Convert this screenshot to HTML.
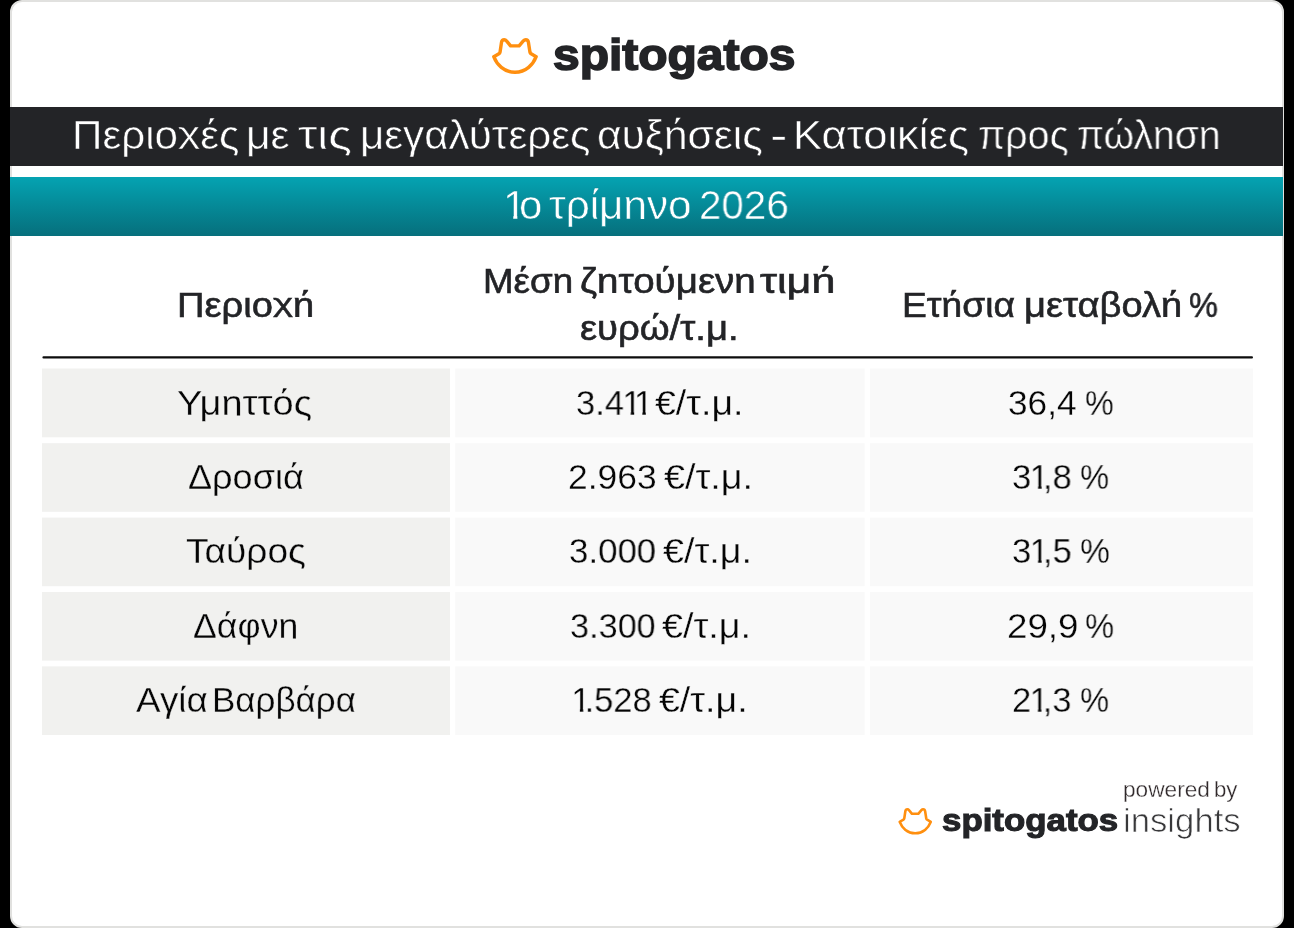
<!DOCTYPE html>
<html lang="el"><head><meta charset="utf-8"><title>Spitogatos Insights</title>
<style>html,body{margin:0;padding:0;}
body{width:1294px;height:928px;background:#000;position:relative;overflow:hidden;font-family:"Liberation Sans",sans-serif;}
.card{position:absolute;left:10px;top:0;width:1274px;height:928px;box-sizing:border-box;background:#fff;border:2px solid #e1e1df;border-radius:12px;}
.dark{position:absolute;left:10px;top:107px;width:1273px;height:59px;background:#232427;}
.teal{position:absolute;left:10px;top:177px;width:1273px;height:59px;background:linear-gradient(to bottom,#05a3b2 0%,#058e9c 40%,#066f7c 100%);}
.tx{position:absolute;height:0;white-space:nowrap;line-height:1;margin:0;padding:0;}
.t{display:inline-block;white-space:nowrap;line-height:1;transform-origin:0 0;will-change:transform;}
.n1{display:inline-block;margin:0 -0.17em 0 -0.05em;clip-path:polygon(0 0,100% 0,100% 0.75em,0.345em 0.75em,0.345em 100%,0.248em 100%,0.248em 0.75em,0 0.75em);}
.grid{position:absolute;left:0;top:0;}
.chi{display:inline-block;height:0;line-height:0;transform-origin:50% calc(var(--bl) - 0.54em);transform:scaleY(0.72);}
.eta{display:inline-block;height:0;line-height:0;clip-path:polygon(-0.3em -1.3em,1.3em -1.3em,1.3em var(--bl),-0.3em var(--bl));}
</style></head><body>
<div class="card"></div>
<div class="dark"></div>
<div class="teal"></div>
<svg class="grid" width="1294" height="928" viewBox="0 0 1294 928"><rect x="42.4" y="356.3" width="1210.6" height="2.3" rx="1.1" fill="#0d0d0d"/><rect x="42.0" y="368.5" width="408.0" height="68.8" fill="#f1f1ef"/><rect x="455.2" y="368.5" width="409.4" height="68.8" fill="#f9f9f9"/><rect x="870.0" y="368.5" width="383.0" height="68.8" fill="#f9f9f9"/><rect x="42.0" y="443.2" width="408.0" height="68.6" fill="#f1f1ef"/><rect x="455.2" y="443.2" width="409.4" height="68.6" fill="#f9f9f9"/><rect x="870.0" y="443.2" width="383.0" height="68.6" fill="#f9f9f9"/><rect x="42.0" y="517.6" width="408.0" height="68.6" fill="#f1f1ef"/><rect x="455.2" y="517.6" width="409.4" height="68.6" fill="#f9f9f9"/><rect x="870.0" y="517.6" width="383.0" height="68.6" fill="#f9f9f9"/><rect x="42.0" y="592.0" width="408.0" height="68.6" fill="#f1f1ef"/><rect x="455.2" y="592.0" width="409.4" height="68.6" fill="#f9f9f9"/><rect x="870.0" y="592.0" width="383.0" height="68.6" fill="#f9f9f9"/><rect x="42.0" y="666.4" width="408.0" height="68.6" fill="#f1f1ef"/><rect x="455.2" y="666.4" width="409.4" height="68.6" fill="#f9f9f9"/><rect x="870.0" y="666.4" width="383.0" height="68.6" fill="#f9f9f9"/></svg>
<svg class="cat" style="position:absolute;left:486px;top:32px;width:60px;height:48px;overflow:visible" viewBox="0 0 1160 928" fill="none" stroke="#ff8f0f" stroke-width="66" stroke-linejoin="round" stroke-linecap="round"><path d="M150 478 L250 422 Q268 410 272 385 L300 200 Q308 150 352 150 Q378 150 400 176 L475 268 L640 268 L722 172 Q742 150 768 150 Q812 150 820 200 L850 390 Q854 412 872 422 L970 478 C912 628 775 779 560 779 C345 779 208 628 150 478 Z"/></svg>
<svg class="cat" style="position:absolute;left:893px;top:803px;width:46px;height:37px;overflow:visible" viewBox="0 0 46 37" fill="none" stroke="#ff8f0f" stroke-linejoin="round" stroke-linecap="round"><g transform="translate(0.95,0.62) scale(0.03802)" stroke-width="68"><path d="M150 478 L250 422 Q268 410 272 385 L300 200 Q308 150 352 150 Q378 150 400 176 L475 268 L640 268 L722 172 Q742 150 768 150 Q812 150 820 200 L850 390 Q854 412 872 422 L970 478 C912 628 775 779 560 779 C345 779 208 628 150 478 Z"/></g></svg>
<div class="tx" id="title" style="--bl:14.0px;left:71.88px;top:115.21px;font-size:41px;font-weight:400;color:#fff;-webkit-text-stroke:0.5px #232427;"><span class="t" id="title_0" style="transform:scaleX(1.0283);margin-right:0.01px">Περιο<span class="chi">χ</span>ές</span> <span class="t" id="title_1" style="transform:scaleX(1.0415);margin-right:-1.00px">με</span> <span class="t" id="title_2" style="transform:scaleX(1.1909);margin-right:4.86px">τις</span> <span class="t" id="title_3" style="transform:scaleX(1.0292);margin-right:2.02px">μεγαλύτερες</span> <span class="t" id="title_4" style="transform:scaleX(1.0372);margin-right:1.91px">αυξ<span class="eta">ή</span>σεις</span> <span class="t" id="title_5" style="transform:scaleX(1.2748);margin-right:-2.33px">-</span> <span class="t" id="title_6" style="transform:scaleX(1.0613);margin-right:7.71px">Κατοικίες</span> <span class="t" id="title_7" style="transform:scaleX(0.9617);margin-right:-5.86px">προς</span> <span class="t" id="title_8" style="transform:scaleX(0.9559)">πώλ<span class="eta">η</span>σ<span class="eta">η</span></span></div>
<div class="tx" id="sub" style="--bl:14.0px;left:504.96px;top:185.10px;font-size:41px;font-weight:400;color:#fff;-webkit-text-stroke:0.5px #058694;"><span class="t" id="sub_0" style="transform:scaleX(1.0191);margin-right:-3.77px"><span class="n1">1</span>ο</span> <span class="t" id="sub_1" style="transform:scaleX(1.0304);margin-right:-0.19px">τρίμ<span class="eta">η</span>νο</span> <span class="t" id="sub_2" style="transform:scaleX(0.9840)">2026</span></div>
<div class="tx" id="h1" style="--bl:12.0px;left:176.74px;top:288.00px;font-size:35.5px;font-weight:400;color:#232427;-webkit-text-stroke:0.6px #232427;"><span class="t" id="h1_0" style="transform:scaleX(1.0747)">Περιο<span class="chi">χ</span><span class="eta">ή</span></span></div>
<div class="tx" id="h2a" style="--bl:12.0px;left:482.90px;top:264.00px;font-size:35.5px;font-weight:400;color:#232427;-webkit-text-stroke:0.6px #232427;"><span class="t" id="h2a_0" style="transform:scaleX(1.0354);margin-right:0.05px">Μέσ<span class="eta">η</span></span> <span class="t" id="h2a_1" style="transform:scaleX(1.0861);margin-right:8.78px">ζ<span class="eta">η</span>τούμεν<span class="eta">η</span></span> <span class="t" id="h2a_2" style="transform:scaleX(1.2151)">τιμ<span class="eta">ή</span></span></div>
<div class="tx" id="h2b" style="--bl:12.0px;left:579.95px;top:311.00px;font-size:35.5px;font-weight:400;color:#232427;-webkit-text-stroke:0.6px #232427;"><span class="t" id="h2b_0" style="transform:scaleX(1.0770)">ευρώ/τ.μ.</span></div>
<div class="tx" id="h3" style="--bl:12.0px;left:901.86px;top:288.00px;font-size:35.5px;font-weight:400;color:#232427;-webkit-text-stroke:0.6px #232427;"><span class="t" id="h3_0" style="transform:scaleX(1.0481);margin-right:4.11px">Ετ<span class="eta">ή</span>σια</span> <span class="t" id="h3_1" style="transform:scaleX(1.0735);margin-right:7.93px">μεταβολ<span class="eta">ή</span></span> <span class="t" id="h3_2" style="transform:scaleX(0.9145)">%</span></div>
<div class="tx" id="a1" style="--bl:12.5px;left:176.92px;top:384.81px;font-size:35px;font-weight:400;color:#050505;-webkit-text-stroke:0.3px #f1f1ef;"><span class="t" id="a1_0" style="transform:scaleX(1.0853)">Υμ<span class="eta">η</span>ττός</span></div>
<div class="tx" id="b1" style="--bl:12.5px;left:576.01px;top:384.81px;font-size:35px;font-weight:400;color:#050505;-webkit-text-stroke:0.3px #f9f9f9;"><span class="t" id="b1_0" style="transform:scaleX(0.9855);margin-right:-2.75px">3.4<span class="n1">1</span><span class="n1">1</span></span> <span class="t" id="b1_1" style="transform:scaleX(1.0707)">€/τ.μ.</span></div>
<div class="tx" id="c1" style="--bl:12.5px;left:1007.95px;top:384.81px;font-size:35px;font-weight:400;color:#050505;-webkit-text-stroke:0.3px #f9f9f9;"><span class="t" id="c1_0" style="transform:scaleX(1.0064);margin-right:-1.11px">36,4</span> <span class="t" id="c1_1" style="transform:scaleX(0.9225)">%</span></div>
<div class="tx" id="a2" style="--bl:12.5px;left:187.95px;top:459.10px;font-size:35px;font-weight:400;color:#050505;-webkit-text-stroke:0.3px #f1f1ef;"><span class="t" id="a2_0" style="transform:scaleX(1.0301)">Δροσιά</span></div>
<div class="tx" id="b2" style="--bl:12.5px;left:567.97px;top:459.10px;font-size:35px;font-weight:400;color:#050505;-webkit-text-stroke:0.3px #f9f9f9;"><span class="t" id="b2_0" style="transform:scaleX(1.0119);margin-right:-1.73px">2.963</span> <span class="t" id="b2_1" style="transform:scaleX(1.0769)">€/τ.μ.</span></div>
<div class="tx" id="c2" style="--bl:12.5px;left:1012.01px;top:459.10px;font-size:35px;font-weight:400;color:#050505;-webkit-text-stroke:0.3px #f9f9f9;"><span class="t" id="c2_0" style="transform:scaleX(0.9898);margin-right:-2.20px">3<span class="n1">1</span>,8</span> <span class="t" id="c2_1" style="transform:scaleX(0.9366)">%</span></div>
<div class="tx" id="a3" style="--bl:12.5px;left:185.93px;top:533.40px;font-size:35px;font-weight:400;color:#050505;-webkit-text-stroke:0.3px #f1f1ef;"><span class="t" id="a3_0" style="transform:scaleX(1.0595)">Ταύρος</span></div>
<div class="tx" id="b3" style="--bl:12.5px;left:569.00px;top:533.40px;font-size:35px;font-weight:400;color:#050505;-webkit-text-stroke:0.3px #f9f9f9;"><span class="t" id="b3_0" style="transform:scaleX(0.9954);margin-right:-3.21px">3.000</span> <span class="t" id="b3_1" style="transform:scaleX(1.0757)">€/τ.μ.</span></div>
<div class="tx" id="c3" style="--bl:12.5px;left:1011.98px;top:533.40px;font-size:35px;font-weight:400;color:#050505;-webkit-text-stroke:0.3px #f9f9f9;"><span class="t" id="c3_0" style="transform:scaleX(0.9898);margin-right:-2.21px">3<span class="n1">1</span>,5</span> <span class="t" id="c3_1" style="transform:scaleX(0.9613)">%</span></div>
<div class="tx" id="a4" style="--bl:12.5px;left:192.97px;top:607.71px;font-size:35px;font-weight:400;color:#050505;-webkit-text-stroke:0.3px #f1f1ef;"><span class="t" id="a4_0" style="transform:scaleX(1.0200)">Δάφν<span class="eta">η</span></span></div>
<div class="tx" id="b4" style="--bl:12.5px;left:570.04px;top:607.71px;font-size:35px;font-weight:400;color:#050505;-webkit-text-stroke:0.3px #f9f9f9;"><span class="t" id="b4_0" style="transform:scaleX(0.9787);margin-right:-5.63px">3.300</span> <span class="t" id="b4_1" style="transform:scaleX(1.0769)">€/τ.μ.</span></div>
<div class="tx" id="c4" style="--bl:12.5px;left:1006.86px;top:607.71px;font-size:35px;font-weight:400;color:#050505;-webkit-text-stroke:0.3px #f9f9f9;"><span class="t" id="c4_0" style="transform:scaleX(1.0485);margin-right:0.62px">29,9</span> <span class="t" id="c4_1" style="transform:scaleX(0.9366)">%</span></div>
<div class="tx" id="a5" style="--bl:12.5px;left:135.90px;top:682.00px;font-size:35px;font-weight:400;color:#050505;-webkit-text-stroke:0.3px #f1f1ef;"><span class="t" id="a5_0" style="transform:scaleX(1.0518);margin-right:-2.20px">Αγία</span> <span class="t" id="a5_1" style="transform:scaleX(0.9993)">Βαρβάρα</span></div>
<div class="tx" id="b5" style="--bl:12.5px;left:573.00px;top:682.00px;font-size:35px;font-weight:400;color:#050505;-webkit-text-stroke:0.3px #f9f9f9;"><span class="t" id="b5_0" style="transform:scaleX(0.9831);margin-right:-4.14px"><span class="n1">1</span>.528</span> <span class="t" id="b5_1" style="transform:scaleX(1.0720)">€/τ.μ.</span></div>
<div class="tx" id="c5" style="--bl:12.5px;left:1011.97px;top:682.00px;font-size:35px;font-weight:400;color:#050505;-webkit-text-stroke:0.3px #f9f9f9;"><span class="t" id="c5_0" style="transform:scaleX(0.9844);margin-right:-2.47px">2<span class="n1">1</span>,3</span> <span class="t" id="c5_1" style="transform:scaleX(0.9366)">%</span></div>
<div class="tx" id="logo" style="--bl:15.5px;left:552.87px;top:32.90px;font-size:44px;font-weight:700;color:#232427;-webkit-text-stroke:1.6px #232427;"><span class="t" id="logo_0" style="transform:scaleX(1.0901)">spitogatos</span></div>
<div class="tx" id="pw" style="--bl:7.0px;left:1122.86px;top:780.21px;font-size:21.5px;font-weight:400;color:#30292b;-webkit-text-stroke:0.3px #fff;"><span class="t" id="pw_0" style="transform:scaleX(1.0533);margin-right:2.32px">powered</span> <span class="t" id="pw_1" style="transform:scaleX(1.0331)">by</span></div>
<div class="tx" id="logo2" style="--bl:11.0px;left:942.01px;top:804.31px;font-size:32px;font-weight:700;color:#232427;-webkit-text-stroke:1.1px #232427;"><span class="t" id="logo2_0" style="transform:scaleX(1.0889)">spitogatos</span></div>
<div class="tx" id="ins" style="--bl:12.0px;left:1122.92px;top:802.60px;font-size:34px;font-weight:400;color:#38383a;-webkit-text-stroke:0.7px #fff;"><span class="t" id="ins_0" style="transform:scaleX(1.0208)">insights</span></div>
</body></html>
